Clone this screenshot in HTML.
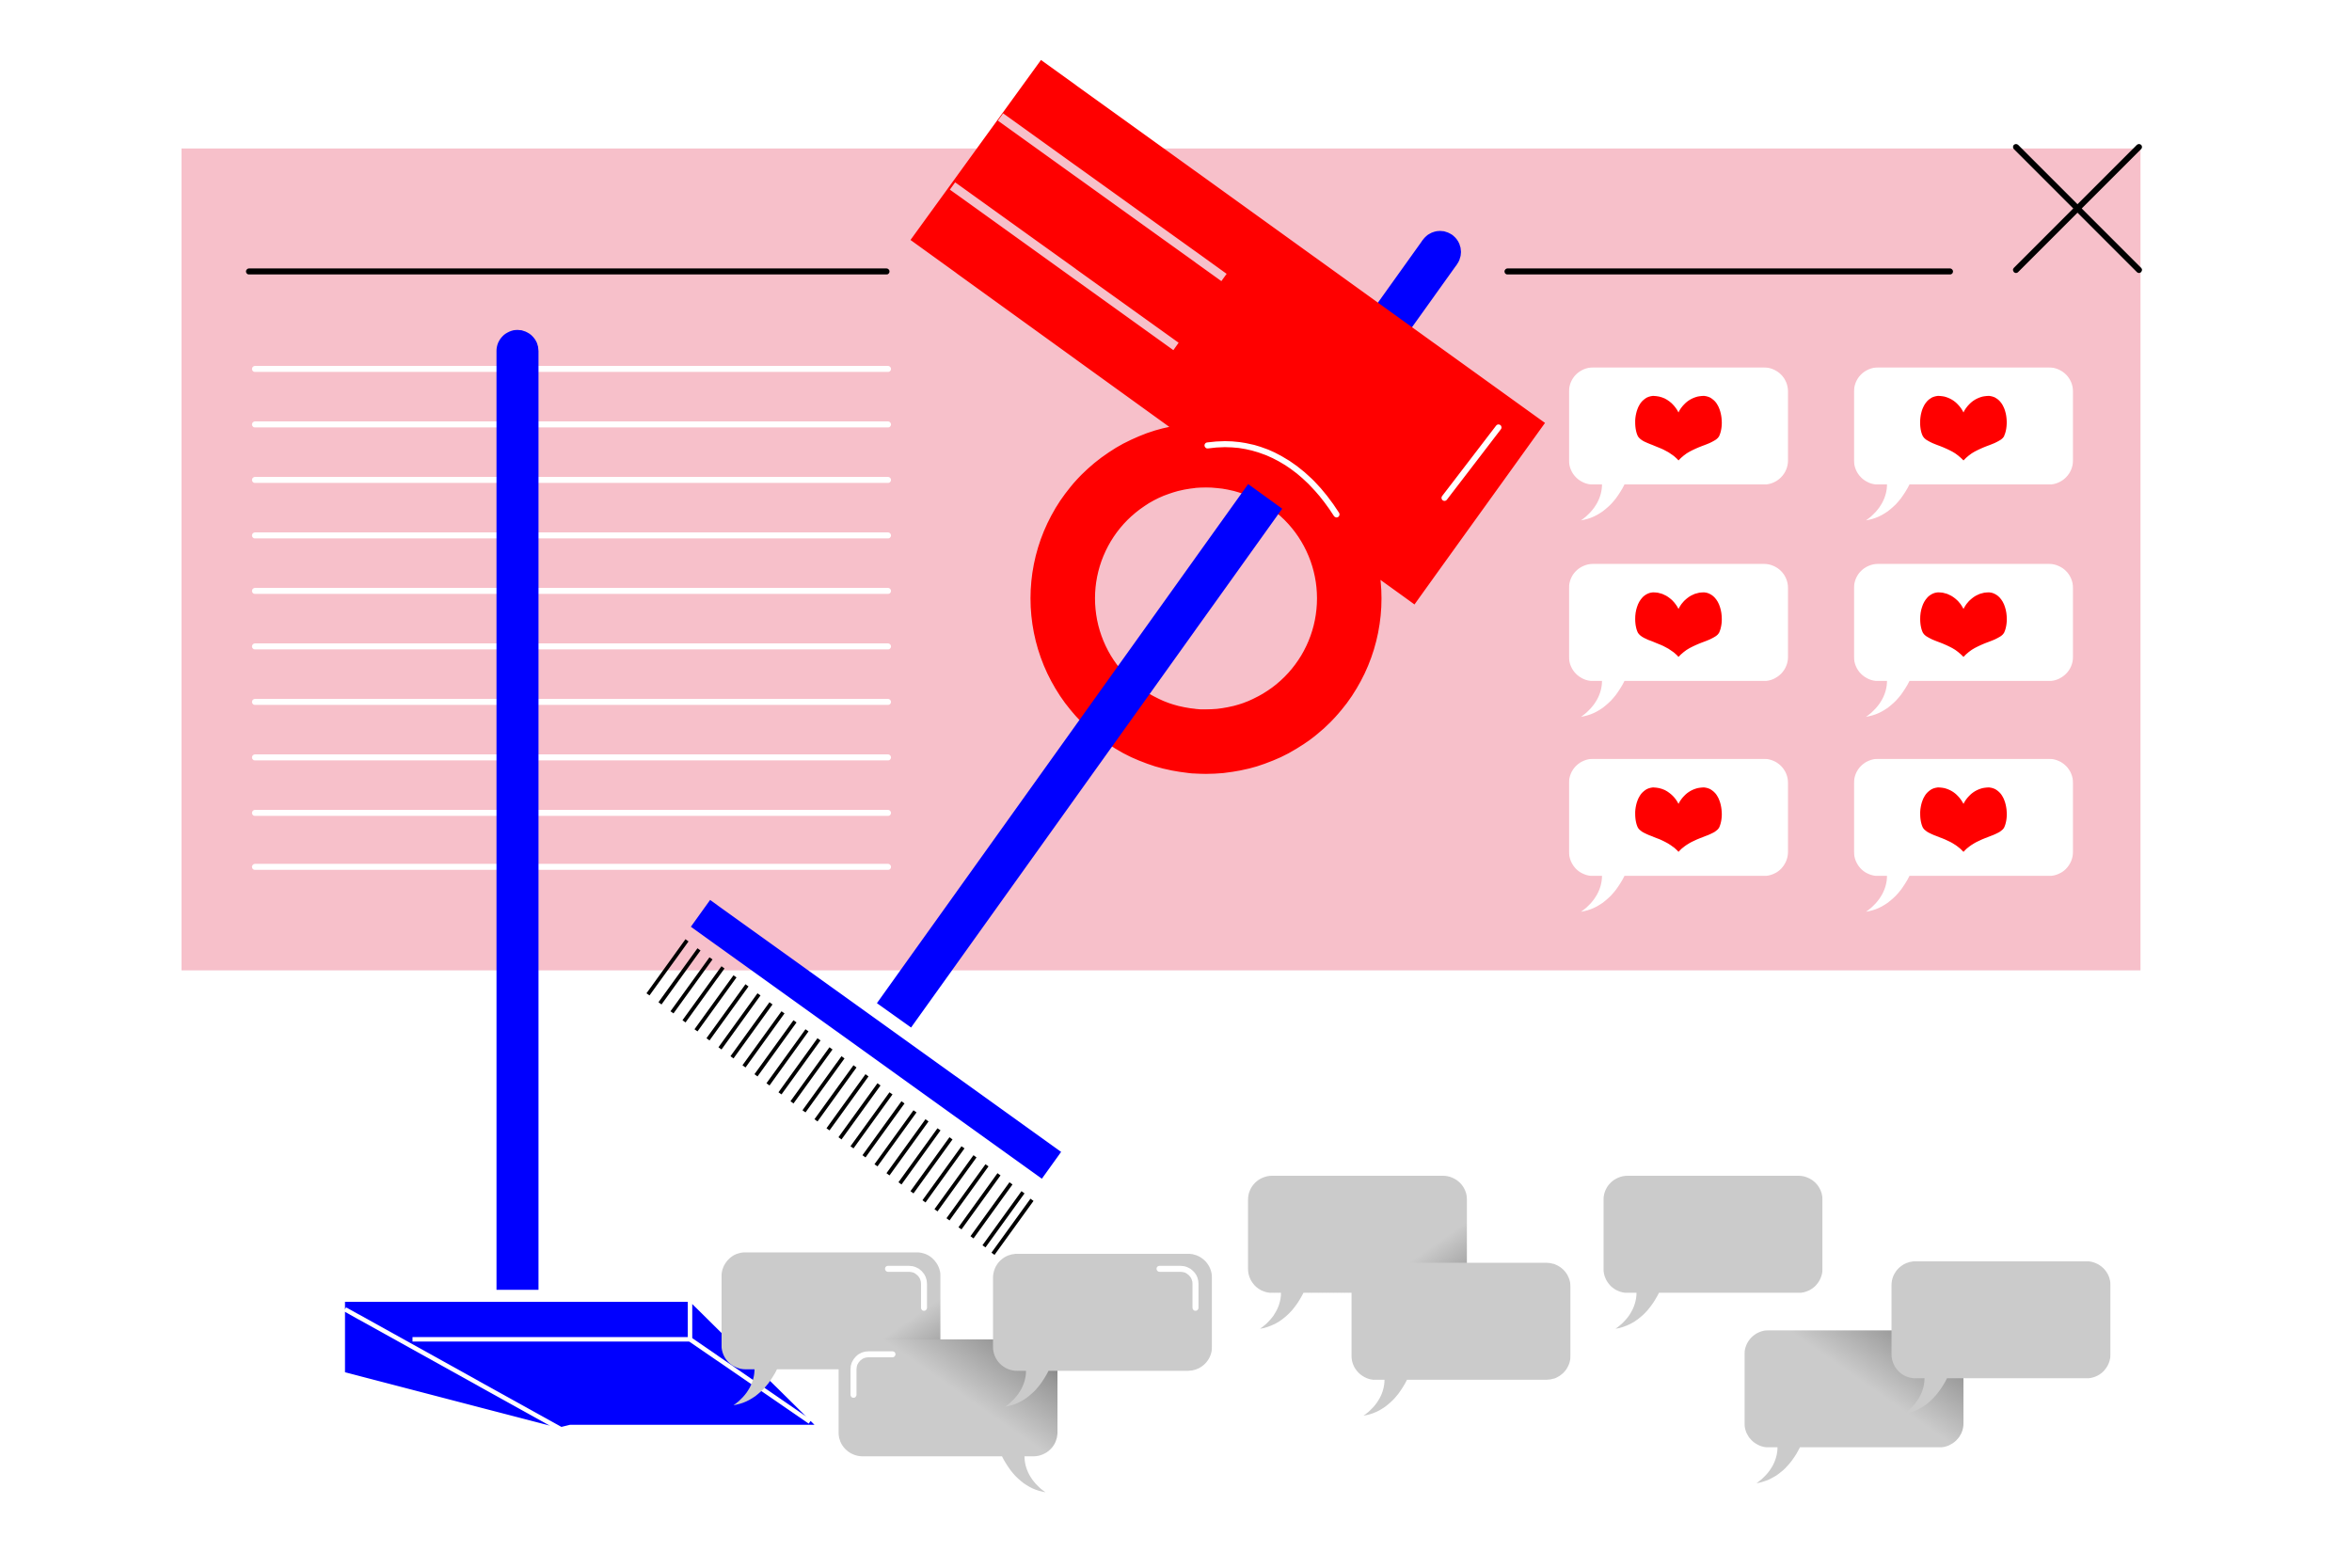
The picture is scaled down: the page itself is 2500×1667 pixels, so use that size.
<!DOCTYPE html>
<html><head><meta charset="utf-8"><style>
html,body{margin:0;padding:0;background:#fff;}
svg{display:block;width:2500px;height:1667px;}
</style></head><body>
<svg viewBox="0 0 1568 1045.5" preserveAspectRatio="none" xmlns="http://www.w3.org/2000/svg">
<defs>
<linearGradient id="g" x1="0" y1="0" x2="1" y2="1">
<stop offset="0" stop-color="#cbcbcb"/><stop offset="0.65" stop-color="#cbcbcb"/><stop offset="0.85" stop-color="#999"/><stop offset="1" stop-color="#6a6a6a"/>
</linearGradient>
<linearGradient id="g2" x1="1" y1="1" x2="0" y2="0">
<stop offset="0" stop-color="#cbcbcb"/><stop offset="0.6" stop-color="#cbcbcb"/><stop offset="0.85" stop-color="#999"/><stop offset="1" stop-color="#6a6a6a"/>
</linearGradient>
<linearGradient id="g3" x1="0" y1="1" x2="1" y2="0">
<stop offset="0" stop-color="#cbcbcb"/><stop offset="0.6" stop-color="#cbcbcb"/><stop offset="0.85" stop-color="#999"/><stop offset="1" stop-color="#6a6a6a"/>
</linearGradient>
<path id="bp" d="M16 0H130A16 16 0 0 1 146 16V62A16 16 0 0 1 130 78H37C30 92 20 100 8 102C18 95 22 86 22 78H16A16 16 0 0 1 0 62V16A16 16 0 0 1 16 0Z"/>
<symbol id="hb" viewBox="0 0 146 105">
<use href="#bp" fill="#fff"/>
<path d="M73 62C64 52 50 52 46 46C42 38 44 20 56 19C64 19 70 24 73 30C76 24 82 19 90 19C102 20 104 38 100 46C96 52 82 52 73 62Z" fill="#f00"/>
</symbol>
<symbol id="gb" viewBox="0 0 146 105"><use href="#bp" fill="#cbcbcb"/></symbol>
<symbol id="gbg" viewBox="0 0 146 105"><use href="#bp" fill="url(#g)"/></symbol>
<symbol id="gbg2" viewBox="0 0 146 105"><use href="#bp" fill="url(#g2)"/></symbol>
<symbol id="gbg3" viewBox="0 0 146 105"><use href="#bp" fill="url(#g3)"/></symbol>
</defs>
<rect x="121" y="99" width="1306" height="548" fill="#f7c0ca"/>
<g stroke="#000" stroke-width="4" stroke-linecap="round">
<line x1="166" y1="181" x2="591" y2="181"/><line x1="1005" y1="181" x2="1300" y2="181"/>
<line x1="1344" y1="98" x2="1426" y2="180"/><line x1="1426" y1="98" x2="1344" y2="180"/>
</g>
<g stroke="#fff" stroke-width="4" stroke-linecap="round">
<line x1="170" y1="246" x2="592" y2="246"/><line x1="170" y1="283" x2="592" y2="283"/>
<line x1="170" y1="320" x2="592" y2="320"/><line x1="170" y1="357" x2="592" y2="357"/>
<line x1="170" y1="394" x2="592" y2="394"/><line x1="170" y1="431" x2="592" y2="431"/>
<line x1="170" y1="468" x2="592" y2="468"/><line x1="170" y1="505" x2="592" y2="505"/>
<line x1="170" y1="542" x2="592" y2="542"/><line x1="170" y1="578" x2="592" y2="578"/>
</g>
<use href="#hb" x="1046" y="245" width="146" height="105"/>
<use href="#hb" x="1236" y="245" width="146" height="105"/>
<use href="#hb" x="1046" y="376" width="146" height="105"/>
<use href="#hb" x="1236" y="376" width="146" height="105"/>
<use href="#hb" x="1046" y="506" width="146" height="105"/>
<use href="#hb" x="1236" y="506" width="146" height="105"/>
<!-- mop -->
<path d="M331 234A14 14 0 0 1 359 234V860H331Z" fill="#00f"/>
<path d="M230 868H460L543 950H380L372 952L230 915Z" fill="#00f"/>
<g stroke="#fff" stroke-width="3" fill="none">
<line x1="230" y1="873" x2="374" y2="953"/>
<line x1="275" y1="893" x2="460" y2="893"/><line x1="460" y1="868" x2="460" y2="893"/>
<line x1="460" y1="893" x2="540" y2="948"/>
</g>
<!-- ring -->
<path fill-rule="evenodd" fill="#f00" d="M687 399a117 117 0 1 0 234 0a117 117 0 1 0 -234 0ZM730 399a74 74 0 1 1 148 0a74 74 0 1 1 -148 0Z"/>
<!-- broom handle -->
<line x1="960" y1="168" x2="596" y2="677" stroke="#00f" stroke-width="28" stroke-linecap="butt"/>
<circle cx="960" cy="168" r="14" fill="#00f"/>
<!-- tape body -->
<path d="M694 40L1030 282L943 403L918 385L780 285L607 160Z" fill="#f00"/>
<g stroke="#f7c0ca" stroke-width="6"><line x1="667" y1="78" x2="816" y2="185"/><line x1="635" y1="124" x2="784" y2="231"/></g>
<g stroke="#fff" stroke-width="4" fill="none" stroke-linecap="round">
<path d="M805 297C840 292 870 310 891 343"/><line x1="963" y1="332" x2="999" y2="285"/>
</g>
<!-- broom head -->
<line x1="467" y1="609" x2="701" y2="777" stroke="#00f" stroke-width="22"/>
<g stroke="#000" stroke-width="2.5">
<line x1="458" y1="627" x2="432" y2="663"/><line x1="466" y1="633" x2="440" y2="669"/><line x1="474" y1="639" x2="448" y2="675"/>
<line x1="482" y1="645" x2="456" y2="681"/><line x1="490" y1="651" x2="464" y2="687"/><line x1="498" y1="657" x2="472" y2="693"/>
<line x1="506" y1="663" x2="480" y2="699"/><line x1="514" y1="669" x2="488" y2="705"/><line x1="522" y1="675" x2="496" y2="711"/>
<line x1="530" y1="681" x2="504" y2="717"/><line x1="538" y1="687" x2="512" y2="723"/><line x1="546" y1="693" x2="520" y2="729"/>
<line x1="554" y1="699" x2="528" y2="735"/><line x1="562" y1="705" x2="536" y2="741"/><line x1="570" y1="711" x2="544" y2="747"/>
<line x1="578" y1="717" x2="552" y2="753"/><line x1="586" y1="723" x2="560" y2="759"/><line x1="594" y1="729" x2="568" y2="765"/>
<line x1="602" y1="735" x2="576" y2="771"/><line x1="610" y1="741" x2="584" y2="777"/><line x1="618" y1="747" x2="592" y2="783"/>
<line x1="626" y1="753" x2="600" y2="789"/><line x1="634" y1="759" x2="608" y2="795"/><line x1="642" y1="765" x2="616" y2="801"/>
<line x1="650" y1="771" x2="624" y2="807"/><line x1="658" y1="777" x2="632" y2="813"/><line x1="666" y1="783" x2="640" y2="819"/>
<line x1="674" y1="789" x2="648" y2="825"/><line x1="682" y1="795" x2="656" y2="831"/><line x1="688" y1="800" x2="662" y2="836"/>
</g>
<!-- gray bubbles -->
<use href="#gbg" x="832" y="784" width="146" height="105"/>
<use href="#gb" x="1069" y="784" width="146" height="105"/>
<use href="#gbg" x="481" y="835" width="146" height="105"/>
<use href="#gbg3" x="1163" y="887" width="146" height="105"/>
<use href="#gb" x="901" y="842" width="146" height="105"/>
<g transform="translate(705 893) scale(-1 1)"><use href="#gbg2" x="0" y="0" width="146" height="105"/></g>
<use href="#gb" x="662" y="836" width="146" height="105"/>
<use href="#gb" x="1261" y="841" width="146" height="105"/>
<g stroke="#fff" stroke-width="4" fill="none" stroke-linecap="round">
<path d="M592 846H606A10 10 0 0 1 616 856V872"/>
<path d="M773 846H787A10 10 0 0 1 797 856V872"/>
<path d="M595 903H579A10 10 0 0 0 569 913V930"/>
</g>
</svg>
</body></html>
